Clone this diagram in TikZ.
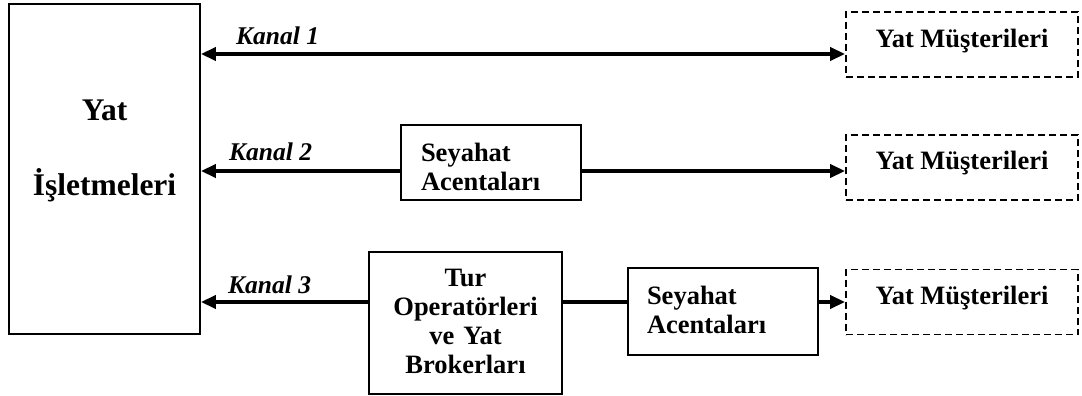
\documentclass[tikz,border=0pt]{standalone}
\usepackage{fontspec}
\setmainfont{Liberation Serif}
\usetikzlibrary{arrows.meta}
\begin{document}
\begin{tikzpicture}[x=1pt,y=-1pt,
  txt/.style={font=\bfseries\fontsize{26.5}{29}\selectfont},
  box/.style={txt,draw,line width=1.8pt,inner sep=0pt,text height=18pt},
  custbox/.style={box,dash pattern=on 7pt off 4pt,minimum width=232pt,minimum height=65pt},
  chan/.style={font=\bfseries\itshape\fontsize{25.5}{28}\selectfont,inner sep=0pt,anchor=base west},
  flow/.style={line width=4pt,-{Triangle[length=15pt,width=13pt]}},
  both/.style={line width=4pt,{Triangle[length=15pt,width=13pt]}-{Triangle[length=15pt,width=13pt]}},
  link/.style={line width=4pt}
]
\useasboundingbox (0,0) rectangle (1082,396);

% yacht companies
\node[box,minimum width=191pt,minimum height=330pt] (firm) at (104.5,169) {};
\node[font=\bfseries\fontsize{31.5}{75}\selectfont,align=center,inner sep=0pt] (firmlbl) at (104.5,151) {Yat\\İşletmeleri};

% customers
\node[custbox,text depth=11pt] (cust1) at (962,44.5) {Yat Müşterileri};
\node[custbox,text depth=15pt] (cust2) at (962,167.5) {Yat Müşterileri};
\node[custbox,text depth=14pt] (cust3) at (962,302) {Yat Müşterileri};

% intermediaries
\node[box,minimum width=180pt,minimum height=75pt,text width=140pt,align=left,text depth=19.6pt] (agency2) at (491,162.5) {Seyahat\\Acentaları};
\node[box,minimum width=193pt,minimum height=142pt,text width=180pt,align=center,text depth=92pt,font=\bfseries\fontsize{26.5}{29.3}\selectfont] (tour) at (465.5,323) {Tur\\Operatörleri\\ve Yat\\Brokerları};
\node[box,minimum width=190pt,minimum height=87pt,text width=152pt,align=left,text depth=33pt] (agency3) at (723,311.5) {Seyahat\\Acentaları};

% channel rows
\coordinate (row1) at (0,54);
\coordinate (row2) at (0,171);
\coordinate (row3) at (0,302);

\draw[both] (firm.east |- row1) -- (cust1.west |- row1);
\draw[flow] (agency2.west |- row2) -- (firm.east |- row2);
\draw[flow] (agency2.east |- row2) -- (cust2.west |- row2);
\draw[flow] (tour.west |- row3) -- (firm.east |- row3);
\draw[link] (tour.east |- row3) -- (agency3.west |- row3);
\draw[flow] (agency3.east |- row3) -- (cust3.west |- row3);

% channel labels
\node[chan] (k1) at (236,45) {Kanal 1};
\node[chan] (k2) at (229,160) {Kanal 2};
\node[chan] (k3) at (228,293) {Kanal 3};
\end{tikzpicture}
\end{document}
